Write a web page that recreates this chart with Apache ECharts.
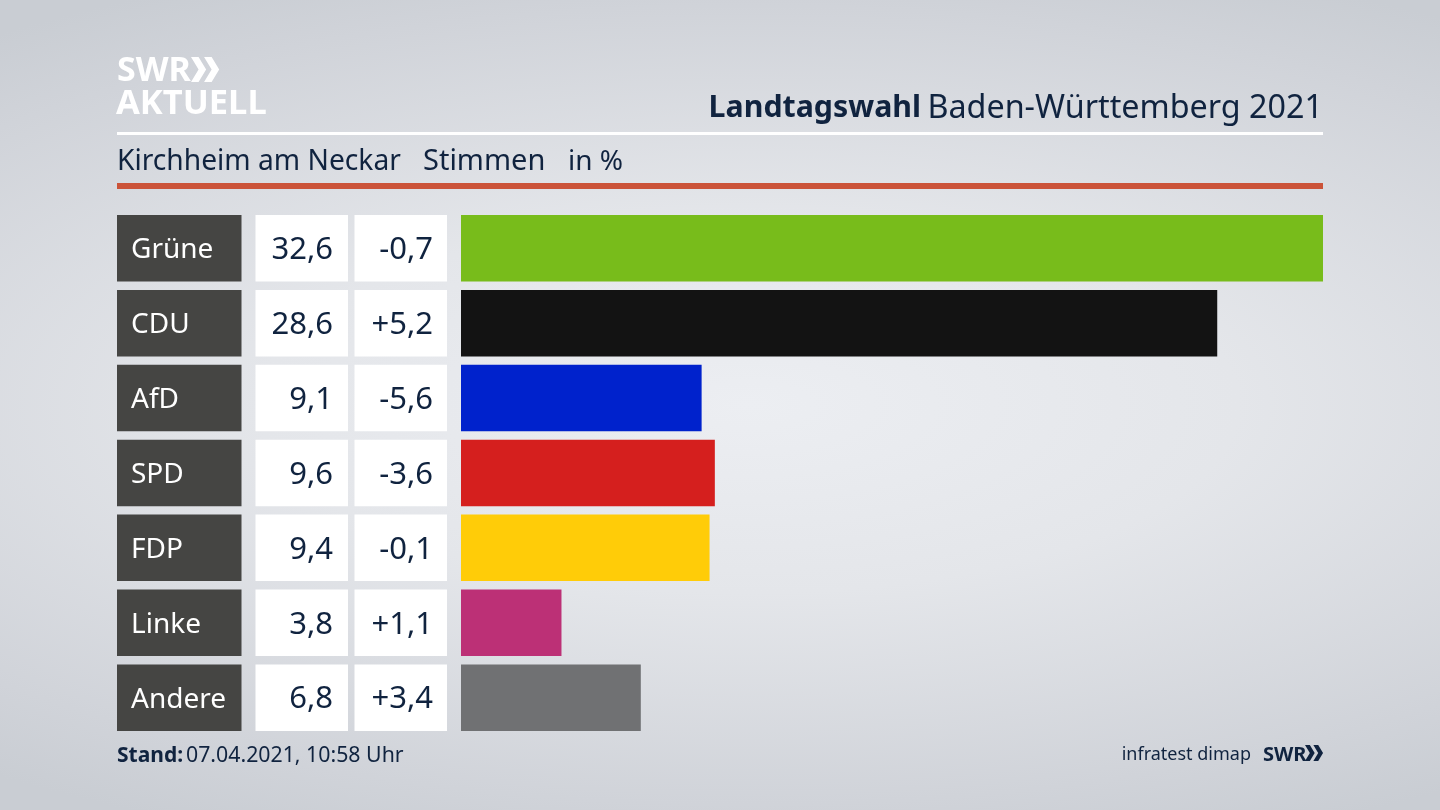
<!DOCTYPE html>
<html>
<head>
<meta charset="utf-8">
<style>
  html, body { margin: 0; padding: 0; width: 1440px; height: 810px; overflow: hidden; }
  body { background: radial-gradient(ellipse 85% 58% at 52% 50%, #eceef2 0%, #e4e6ea 40%, #d0d3d9 85%, #c9cdd3 100%); }
  #chart { width: 1440px; height: 810px; }
</style>
<script src="https://cdn.jsdelivr.net/npm/echarts@6/dist/echarts.min.js"></script>
</head>
<body>
<div id="chart"></div>
<script>
const parties = ['Grüne', 'CDU', 'AfD', 'SPD', 'FDP', 'Linke', 'Andere'];
const votes = [32.6, 28.6, 9.1, 9.6, 9.4, 3.8, 6.8];
const changes = ['-0,7', '+5,2', '-5,6', '-3,6', '-0,1', '+1,1', '+3,4'];
const barColors = ['#78bc1b', '#131313', '#0022cc', '#d51f1e', '#ffcc08', '#bc3076', '#707173'];

const FONT = '"Noto Sans", sans-serif';
const NAVY = '#10233f';
const BAR_H = 66.5;

// the three boxes left of each bar
function cell(api, x, w, fill, text, textX, align, color, size) {
  const y = api.coord([0, api.value(1)])[1];
  return {
    type: 'group',
    children: [
      { type: 'rect', shape: { x: x, y: y - BAR_H / 2, width: w, height: BAR_H }, style: { fill: fill } },
      { type: 'text', style: { text: text, x: textX, y: y + 2, align: align, verticalAlign: 'middle', fill: color, fontSize: size, fontFamily: FONT } }
    ]
  };
}

function cellSeries(fn) {
  return {
    type: 'custom',
    silent: true,
    encode: { x: 0, y: 1 },
    data: parties.map((p, i) => [0, i]),
    renderItem: fn
  };
}

function chevrons(x, y, h, color) {
  const w = h * 0.55;
  const one = (x0) => ({
    type: 'polygon',
    shape: { points: [[x0, y], [x0 + w * 0.55, y], [x0 + w * 1.1, y + h / 2], [x0 + w * 0.55, y + h], [x0, y + h], [x0 + w * 0.55, y + h / 2]] },
    style: { fill: color }
  });
  return [one(x), one(x + w * 0.95)];
}

const chart = echarts.init(document.getElementById('chart'));

chart.setOption({
  animation: false,
  backgroundColor: 'transparent',
  grid: { left: 461, top: 210.8, width: 862, height: 524.3 },
  xAxis: { type: 'value', min: 0, max: 32.6, show: false },
  yAxis: { type: 'category', inverse: true, data: parties, show: false },
  series: [
    {
      type: 'bar',
      barWidth: BAR_H,
      silent: true,
      data: votes.map((v, i) => ({ value: v, itemStyle: { color: barColors[i] } }))
    },
    cellSeries((params, api) => cell(api, 117, 124.5, '#454543', parties[params.dataIndex], 131, 'left', '#ffffff', 28)),
    cellSeries((params, api) => cell(api, 255.5, 92.5, '#ffffff', votes[params.dataIndex].toFixed(1).replace('.', ','), 333, 'right', NAVY, 31)),
    cellSeries((params, api) => cell(api, 354.5, 92.5, '#ffffff', changes[params.dataIndex], 433, 'right', NAVY, 31))
  ],
  graphic: [
    { type: 'text', style: { text: 'SWR', x: 117, y: 71, verticalAlign: 'middle', fill: '#ffffff', fontSize: 34, fontWeight: 'bold', fontFamily: FONT } },
    { type: 'text', style: { text: 'AKTUELL', x: 116, y: 104, verticalAlign: 'middle', fill: '#ffffff', fontSize: 34.5, fontWeight: 'bold', fontFamily: FONT } },
    ...chevrons(191, 57, 25, '#ffffff'),
    { type: 'rect', shape: { x: 117, y: 132, width: 1206, height: 3 }, style: { fill: '#ffffff' } },
    { type: 'rect', shape: { x: 117, y: 183, width: 1206, height: 6 }, style: { fill: '#cb5339' } },
    { type: 'text', style: { text: 'Baden-Württemberg 2021', x: 1323, y: 108.5, align: 'right', verticalAlign: 'middle', fill: NAVY, fontSize: 32.3, fontFamily: FONT } },
    { type: 'text', style: { text: 'Landtagswahl', x: 921, y: 108.5, align: 'right', verticalAlign: 'middle', fill: NAVY, fontSize: 30.3, fontWeight: 'bold', fontFamily: FONT } },
    { type: 'text', style: { text: 'Kirchheim am Neckar', x: 117, y: 162, verticalAlign: 'middle', fill: NAVY, fontSize: 28.2, fontFamily: FONT } },
    { type: 'text', style: { text: 'Stimmen', x: 423, y: 162, verticalAlign: 'middle', fill: NAVY, fontSize: 29, fontFamily: FONT } },
    { type: 'text', style: { text: 'in %', x: 568, y: 162, verticalAlign: 'middle', fill: NAVY, fontSize: 28, fontFamily: FONT } },
    { type: 'text', style: { text: 'Stand:', x: 117, y: 756, verticalAlign: 'middle', fill: NAVY, fontSize: 21, fontWeight: 'bold', fontFamily: FONT } },
    { type: 'text', style: { text: '07.04.2021, 10:58 Uhr', x: 186, y: 756, verticalAlign: 'middle', fill: NAVY, fontSize: 21.3, fontFamily: FONT } },
    { type: 'text', style: { text: 'infratest dimap', x: 1251, y: 755, align: 'right', verticalAlign: 'middle', fill: NAVY, fontSize: 18, fontFamily: FONT } },
    { type: 'text', style: { text: 'SWR', x: 1263, y: 755, verticalAlign: 'middle', fill: NAVY, fontSize: 20, fontWeight: 'bold', fontFamily: FONT } },
    ...chevrons(1305, 745, 16, NAVY)
  ]
});
</script>
</body>
</html>
